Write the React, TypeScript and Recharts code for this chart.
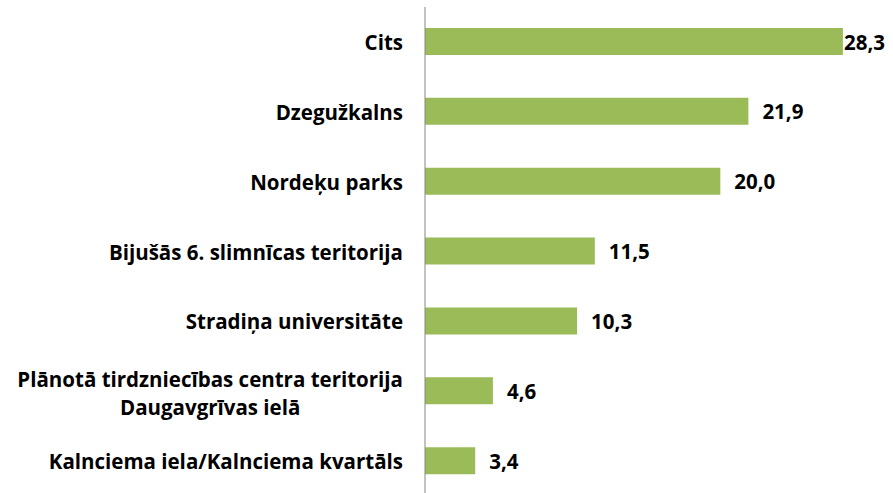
import { BarChart, Bar, XAxis, YAxis, LabelList } from "recharts";

const categories = [
  "Cits",
  "Dzegužkalns",
  "Nordeķu parks",
  "Bijušās 6. slimnīcas teritorija",
  "Stradiņa universitāte",
  "Plānotā tirdzniecības centra teritorija\nDaugavgrīvas ielā",
  "Kalnciema iela/Kalnciema kvartāls",
];
const values = [28.3, 21.9, 20.0, 11.5, 10.3, 4.6, 3.4];

const data = categories.map((name, i) => ({ name, value: values[i] }));

const FONT = "'Open Sans', sans-serif";
const FONT_SIZE = 20.5;

let ctx: CanvasRenderingContext2D | null = null;
function textWidth(s: string): number {
  if (!ctx) ctx = document.createElement("canvas").getContext("2d");
  if (!ctx) return s.length * FONT_SIZE * 0.6;
  ctx.font = `bold ${FONT_SIZE}px ${FONT}`;
  return ctx.measureText(s).width;
}

function CategoryTick(props: any) {
  const { x, y, payload } = props;
  const lines = String(payload.value).split("\n");
  const lh = 28;
  const right = x - 14;
  const start = y + 2 - ((lines.length - 1) * lh) / 2;
  if (lines.length === 1) {
    return (
      <text x={right} y={y} textAnchor="end" dominantBaseline="central"
        fontFamily={FONT} fontWeight={700} fontSize={FONT_SIZE} fill="#000">
        {lines[0]}
      </text>
    );
  }
  // multi-line labels are centred on each other, block right-aligned
  const maxW = Math.max(...lines.map(textWidth));
  const cx = right - maxW / 2;
  return (
    <text x={cx} y={start} textAnchor="middle" dominantBaseline="central"
      fontFamily={FONT} fontWeight={700} fontSize={FONT_SIZE} fill="#000">
      {lines.map((l, i) => (
        <tspan key={i} x={cx} dy={i === 0 ? 0 : lh}>{l}</tspan>
      ))}
    </text>
  );
}

function ValueLabel(props: any) {
  const { x, y, width, height, value } = props;
  // Excel pulls the longest label in so it stays inside the chart area
  const tx = Math.min(x + width + 14, 844);
  return (
    <text x={tx} y={y + height / 2} dominantBaseline="central"
      fontFamily={FONT} fontWeight={700} fontSize={FONT_SIZE} fill="#000">
      {Number(value).toFixed(1).replace(".", ",")}
    </text>
  );
}

export default function App() {
  return (
    <div style={{ position: "absolute", left: 0, top: 0, background: "#fff" }}>
      <BarChart
        width={893}
        height={496}
        data={data}
        layout="vertical"
        margin={{ top: 7, right: 25, bottom: 0, left: 0 }}
      >
        <XAxis type="number" domain={[0, 30]} hide />
        <YAxis
          type="category"
          dataKey="name"
          width={425}
          axisLine={{ stroke: "#868686", strokeWidth: 1 }}
          tickLine={false}
          tick={<CategoryTick />}
          interval={0}
        />
        <Bar dataKey="value" fill="#9BBB59" barSize={27} isAnimationActive={false}>
          <LabelList dataKey="value" content={<ValueLabel />} />
        </Bar>
      </BarChart>
    </div>
  );
}
